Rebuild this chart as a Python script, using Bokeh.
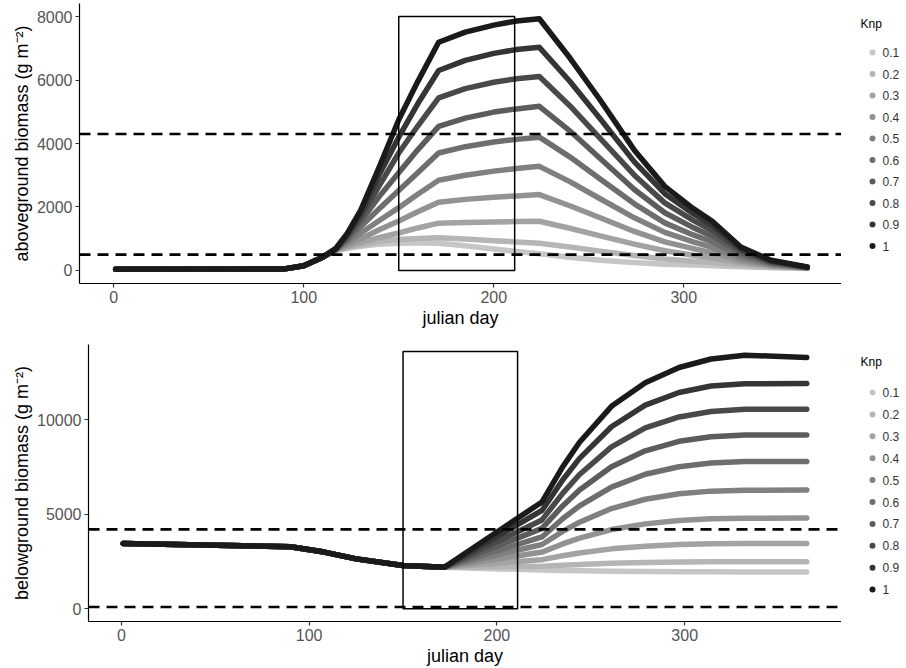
from bokeh.plotting import figure
from bokeh.models import Range1d, FixedTicker
from bokeh.layouts import row, column
from bokeh.embed import file_html
from bokeh.resources import INLINE
from bokeh.core.properties import value

# ---------------- data ----------------
knp_labels = ["0.1", "0.2", "0.3", "0.4", "0.5", "0.6", "0.7", "0.8", "0.9", "1"]
grays = ["#C6C6C6", "#B5B5B5", "#A3A3A3", "#929292", "#808080",
         "#6E6E6E", "#5C5C5C", "#494949", "#353535", "#1A1A1A"]

top_days = [1, 90, 100, 110, 117, 123, 130, 140, 150, 160, 171, 185, 200, 212, 224,
            240, 256, 274, 290, 305, 315, 330, 346, 365]
above_k01 = [40, 50, 150, 420, 620, 700, 760, 830, 860, 870, 860, 780, 680, 600, 530,
             420, 320, 250, 200, 170, 150, 120, 90, 65]
above_k02 = [40, 50, 150, 420, 640, 720, 800, 920, 980, 1010, 1030, 990, 940, 900, 860,
             740, 610, 470, 360, 290, 250, 170, 110, 70]
above_k03 = [40, 50, 150, 420, 650, 760, 880, 1040, 1180, 1340, 1490, 1510, 1530, 1540, 1550,
             1330, 1090, 830, 620, 480, 400, 240, 140, 75]
above_k04 = [40, 50, 150, 420, 650, 810, 1000, 1290, 1560, 1850, 2150, 2240, 2310, 2350, 2390,
             2040, 1660, 1230, 900, 690, 560, 310, 160, 80]
above_k05 = [40, 50, 150, 420, 650, 880, 1180, 1580, 1980, 2400, 2840, 3000, 3130, 3210, 3280,
             2800, 2260, 1660, 1200, 900, 730, 390, 190, 85]
above_k06 = [40, 50, 150, 420, 660, 960, 1380, 1960, 2520, 3080, 3700, 3900, 4050, 4130, 4200,
             3580, 2880, 2100, 1500, 1120, 900, 470, 220, 90]
above_k07 = [40, 50, 150, 420, 670, 1030, 1550, 2350, 3080, 3800, 4540, 4800, 4990, 5090, 5170,
             4400, 3530, 2550, 1820, 1350, 1080, 560, 250, 95]
above_k08 = [40, 50, 150, 420, 680, 1090, 1680, 2700, 3700, 4550, 5440, 5730, 5930, 6040, 6110,
             5190, 4160, 3000, 2130, 1580, 1260, 630, 280, 100]
above_k09 = [40, 50, 150, 420, 690, 1140, 1800, 3050, 4200, 5250, 6300, 6620, 6840, 6960, 7030,
             5960, 4780, 3420, 2420, 1790, 1420, 690, 300, 105]
above_k10 = [40, 50, 150, 420, 700, 1180, 1900, 3300, 4750, 5950, 7190, 7510, 7730, 7860, 7930,
             6700, 5370, 3790, 2650, 1950, 1550, 740, 320, 110]
above_series = [above_k01, above_k02, above_k03, above_k04, above_k05,
                above_k06, above_k07, above_k08, above_k09, above_k10]

bot_days = [1, 90, 108, 125, 150, 172, 224, 235, 244, 261, 279, 297, 314, 332, 365]
below_k01 = [3450, 3280, 3000, 2640, 2290, 2200, 2050, 2030, 2010, 1990, 1970, 1960, 1955, 1950, 1950]
below_k02 = [3450, 3280, 3000, 2640, 2290, 2200, 2250, 2310, 2350, 2410, 2450, 2470, 2485, 2490, 2490]
below_k03 = [3450, 3280, 3000, 2640, 2290, 2200, 2600, 2810, 2950, 3170, 3310, 3400, 3440, 3460, 3460]
below_k04 = [3450, 3280, 3000, 2640, 2290, 2200, 3000, 3430, 3740, 4190, 4490, 4670, 4760, 4790, 4800]
below_k05 = [3450, 3280, 3000, 2640, 2290, 2200, 3400, 4090, 4580, 5300, 5790, 6080, 6220, 6270, 6280]
below_k06 = [3450, 3280, 3000, 2640, 2290, 2200, 3800, 4760, 5440, 6430, 7110, 7510, 7710, 7780, 7790]
below_k07 = [3450, 3280, 3000, 2640, 2290, 2200, 4250, 5440, 6280, 7510, 8350, 8850, 9090, 9180, 9190]
below_k08 = [3450, 3280, 3000, 2640, 2290, 2200, 4700, 6100, 7100, 8560, 9560, 10140, 10430, 10540, 10550]
below_k09 = [3450, 3280, 3000, 2640, 2290, 2200, 5200, 6810, 7950, 9620, 10760, 11430, 11770, 11890, 11900]
below_k10 = [3450, 3280, 3000, 2640, 2290, 2200, 5650, 7500, 8800, 10700, 11950, 12750, 13200, 13400, 13280]
below_series = [below_k01, below_k02, below_k03, below_k04, below_k05,
                below_k06, below_k07, below_k08, below_k09, below_k10]

above_hlines = [4300, 500]
below_hlines = [4200, 100]
box_days = [150, 211]
above_box_top = 8000
below_box_top = 13600

x_ticks = [0, 100, 200, 300]
above_ticks = [0, 2000, 4000, 6000, 8000]
below_ticks = [0, 5000, 10000]

FONT = "Liberation Sans"


def style(p, yticks, ylabel):
    p.xgrid.visible = False
    p.ygrid.visible = False
    p.outline_line_color = None
    p.background_fill_color = "white"
    p.border_fill_color = "white"
    p.xaxis.ticker = FixedTicker(ticks=x_ticks)
    p.yaxis.ticker = FixedTicker(ticks=yticks)
    for ax in (p.xaxis[0], p.yaxis[0]):
        ax.axis_line_color = "black"
        ax.axis_line_width = 1.2
        ax.major_tick_line_color = "#333333"
        ax.major_tick_line_width = 1.2
        ax.major_tick_out = 4
        ax.major_tick_in = 0
        ax.minor_tick_line_color = None
        ax.major_label_text_font = FONT
        ax.major_label_text_font_size = "16px"
        ax.major_label_text_color = "#555555"
        ax.axis_label_text_font = FONT
        ax.axis_label_text_font_size = "18px"
        ax.axis_label_text_font_style = "normal"
        ax.axis_label_text_color = "black"
        ax.major_label_standoff = 3
        ax.axis_label_standoff = 2
    p.xaxis.axis_label = "julian day"
    p.yaxis.axis_label = ylabel


def panel(days, series, hlines, box_top, xr, yr, ticks, ylabel, border_left, border_top, border_bottom):
    p = figure(width=841, height=334, output_backend="svg", toolbar_location=None,
               x_range=Range1d(*xr), y_range=Range1d(*yr),
               min_border_left=border_left, min_border_right=0,
               min_border_top=border_top, min_border_bottom=border_bottom)
    p.frame_align = False
    style(p, ticks, ylabel)
    for vals, col in zip(series, grays):
        p.line(days, vals, line_color=col, line_width=5.5, line_join="round", line_cap="round")
    for h in hlines:
        p.line([xr[0], xr[1]], [h, h], line_color="black", line_width=2.6, line_dash="11 7")
    p.quad(left=[box_days[0]], right=[box_days[1]], bottom=[0], top=[box_top],
           fill_color=None, line_color="black", line_width=1.5)
    return p


p1 = panel(top_days, above_series, above_hlines, above_box_top, (-18, 383), (-410, 8410), above_ticks,
           "aboveground biomass (g m\u207b\u00b2)", 79, 3, 51)
p2 = panel(bot_days, below_series, below_hlines, below_box_top, (-17.5, 383.5), (-667, 13966), below_ticks,
           "belowground biomass (g m\u207b\u00b2)", 88, 10, 47)


def legend_fig(title_y, first_y, step):
    lf = figure(width=65, height=334, output_backend="svg", toolbar_location=None,
                x_range=Range1d(0, 65), y_range=Range1d(334, 0),
                min_border=0, min_border_left=0, min_border_right=0,
                min_border_top=0, min_border_bottom=0)
    lf.frame_align = False
    lf.axis.visible = False
    lf.xgrid.visible = False
    lf.ygrid.visible = False
    lf.outline_line_color = None
    ys = [first_y + i * step for i in range(len(knp_labels))]
    lf.scatter([31] * len(ys), ys, size=6, fill_color=grays, line_color=None)
    lf.text([19], [title_y], text=["Knp"], text_font=value(FONT), text_font_size="12px",
            text_color="black", text_baseline="middle", text_align="left")
    lf.text([41] * len(ys), ys, text=knp_labels, text_font=value(FONT), text_font_size="12px",
            text_color="#333333", text_baseline="middle", text_align="left")
    return lf


l1 = legend_fig(23, 52, 21.5)
l2 = legend_fig(27, 58, 21.9)

layout = row(column(p1, p2), column(l1, l2))
open("out.html", "w").write(file_html(layout, INLINE))
